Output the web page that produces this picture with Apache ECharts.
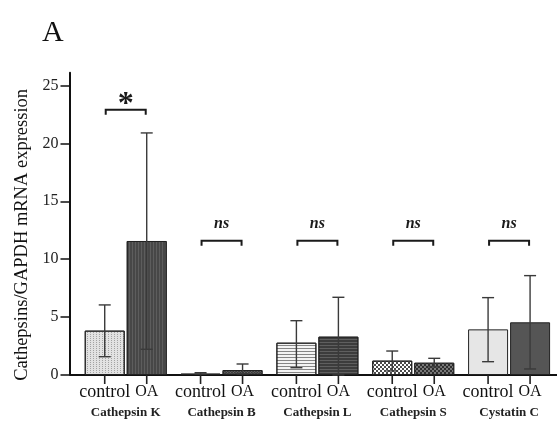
<!DOCTYPE html>
<html><head><meta charset="utf-8">
<script src="https://cdn.jsdelivr.net/npm/echarts@6/dist/echarts.min.js"></script>
<style>html,body{margin:0;padding:0;background:#fff}#c{width:557px;height:432px}</style>
</head><body><div id="c"></div>
<script>
// ---- data ----
const categories = ['Cathepsin K', 'Cathepsin B', 'Cathepsin L', 'Cathepsin S', 'Cystatin C'];
const groupNames = ['control', 'OA'];
const controlMean = [3.83, 0.12, 2.79, 1.24, 3.94];
const controlLow  = [1.58, 0.08, 0.63, 0.35, 1.15];
const controlHigh = [6.05, 0.20, 4.69, 2.07, 6.68];
const oaMean = [11.57, 0.43, 3.31, 1.06, 4.55];
const oaLow  = [2.22, 0.10, 0.00, 0.70, 0.52];
const oaHigh = [20.90, 0.95, 6.71, 1.44, 8.58];
const sigY = [22.9, 11.6, 11.6, 11.6, 11.6];
const sigText = ['*', 'ns', 'ns', 'ns', 'ns'];
const yTicks = [0, 5, 10, 15, 20, 25];

// ---- styling ----
const FONT = 'Liberation Serif';
const BAR_W = 40, GAP = 2, OFF = (BAR_W + GAP) / 2;
const GRID_LEFT = 77.8, AXIS_X = 69.5;

const controlStyles = [
  { color: '#e2e2e2', decal: { symbol: 'rect', symbolSize: 1, dashArrayX: [1, 2], dashArrayY: [1, 1], color: 'rgba(0,0,0,0.28)' } },
  { color: '#3a3a3a', decal: { symbol: 'rect', symbolSize: 1, dashArrayX: [1, 1], dashArrayY: [1, 1], color: 'rgba(255,255,255,0.2)' } },
  { color: '#f4f4f4', decal: { symbol: 'rect', symbolSize: 1, dashArrayX: [1, 0], dashArrayY: [1, 2], color: 'rgba(0,0,0,0.45)' } },
  { color: '#ffffff', decal: { symbol: 'rect', symbolSize: 1, dashArrayX: [[2, 2], [0, 2, 2, 0]], dashArrayY: [2, 0], color: 'rgba(0,0,0,0.7)' } },
  { color: '#e6e6e6' }
];
const oaStyles = [
  { color: '#474747', decal: { symbol: 'rect', symbolSize: 1, dashArrayX: [1, 2], dashArrayY: [1, 0], color: 'rgba(255,255,255,0.12)' } },
  { color: '#3a3a3a', decal: { symbol: 'rect', symbolSize: 1, dashArrayX: [1, 1], dashArrayY: [1, 1], rotation: Math.PI / 4, color: 'rgba(255,255,255,0.3)' } },
  { color: '#3c3c3c', decal: { symbol: 'rect', symbolSize: 1, dashArrayX: [1, 0], dashArrayY: [1, 2], color: 'rgba(255,255,255,0.18)' } },
  { color: '#2e2e2e', decal: { symbol: 'rect', symbolSize: 1, dashArrayX: [[2, 2], [0, 2, 2, 0]], dashArrayY: [2, 0], color: 'rgba(255,255,255,0.35)' } },
  { color: '#555555' }
];

function barData(vals, styles) {
  return vals.map((v, i) => ({
    value: v,
    itemStyle: Object.assign({ borderColor: '#222', borderWidth: 1 }, styles[i])
  }));
}

const errData = [];
categories.forEach((c, i) => {
  errData.push([i, controlLow[i], controlHigh[i], 0]);
  errData.push([i, oaLow[i], oaHigh[i], 1]);
});

function errRender(params, api) {
  const idx = api.value(0), lo = api.value(1), hi = api.value(2), side = api.value(3);
  const pHi = api.coord([idx, hi]);
  const pLo = api.coord([idx, lo]);
  const base = api.coord([idx, 0]);
  const x = pHi[0] + (side ? OFF : -OFF);
  const cap = 6;
  const st = { stroke: '#3a3a3a', lineWidth: 1.4 };
  return {
    type: 'group',
    children: [
      { type: 'line', shape: { x1: x, y1: pHi[1], x2: x, y2: pLo[1] }, style: st },
      { type: 'line', shape: { x1: x - cap, y1: pHi[1], x2: x + cap, y2: pHi[1] }, style: st },
      { type: 'line', shape: { x1: x - cap, y1: pLo[1], x2: x + cap, y2: pLo[1] }, style: st },
      { type: 'line', shape: { x1: x, y1: base[1], x2: x, y2: base[1] + 9 }, style: { stroke: '#222', lineWidth: 1.6 } }
    ]
  };
}

const sigData = categories.map((c, i) => [i, sigY[i]]);
function sigRender(params, api) {
  const idx = api.value(0), y = api.value(1);
  const p = api.coord([idx, y]);
  const hw = OFF - 1, leg = 5;
  const t = sigText[params.dataIndex];
  const star = t === '*';
  return {
    type: 'group',
    children: [
      { type: 'polyline', shape: { points: [[p[0] - hw, p[1] + leg], [p[0] - hw, p[1]], [p[0] + hw, p[1]], [p[0] + hw, p[1] + leg]] },
        style: { stroke: '#1a1a1a', lineWidth: 2, fill: null } },
      { type: 'text', style: {
          text: t, x: p[0], y: star ? p[1] - 5 : p[1] - 17, align: 'center', verticalAlign: 'middle',
          font: star ? 'bold 32px "Liberation Serif"' : 'italic bold 16px "Liberation Serif"', fill: '#1a1a1a' } }
    ]
  };
}

const chart = echarts.init(document.getElementById('c'), null, { renderer: 'canvas' });
chart.setOption({
  animation: false,
  backgroundColor: '#fff',
  title: { text: 'A', left: 37, top: 13, textStyle: { fontFamily: FONT, fontSize: 30, fontWeight: 'normal', color: '#111' } },
  grid: { left: GRID_LEFT, right: -7.8, top: 72.7, bottom: 57, containLabel: false },
  xAxis: {
    type: 'category', data: categories,
    axisLine: { lineStyle: { color: '#111', width: 2 } },
    axisTick: { show: false },
    axisLabel: { fontFamily: FONT, fontSize: 13, fontWeight: 'bold', color: '#222', margin: 31, interval: 0 }
  },
  yAxis: {
    type: 'value', min: 0, max: 26.1, interval: 5,
    offset: GRID_LEFT - AXIS_X,
    axisLine: { show: true, lineStyle: { color: '#111', width: 2 } },
    axisTick: { show: true, length: 9, customValues: yTicks, lineStyle: { color: '#111', width: 1.5 } },
    axisLabel: { customValues: yTicks, fontFamily: FONT, fontSize: 16, color: '#222', margin: 11 },
    splitLine: { show: false },
    name: 'Cathepsins/GAPDH mRNA expression', nameLocation: 'middle', nameGap: 33,
    nameTextStyle: { fontFamily: FONT, fontSize: 18.5, color: '#111', padding: [0, 22, 0, 0] }
  },
  series: [
    { type: 'bar', name: groupNames[0], data: barData(controlMean, controlStyles), barWidth: BAR_W, barGap: (GAP / BAR_W * 100) + '%',
      label: { show: true, position: 'bottom', distance: 8, formatter: groupNames[0], fontFamily: FONT, fontSize: 18, color: '#111' } },
    { type: 'bar', name: groupNames[1], data: barData(oaMean, oaStyles), barWidth: BAR_W,
      label: { show: true, position: 'bottom', distance: 9, formatter: groupNames[1], fontFamily: FONT, fontSize: 16, color: '#111' } },
    { type: 'custom', name: 'error', renderItem: errRender, data: errData, z: 5, encode: { x: 0, y: [1, 2] } },
    { type: 'custom', name: 'sig', renderItem: sigRender, data: sigData, z: 6, encode: { x: 0, y: 1 } }
  ]
});
// short piece of baseline between offset y-axis and grid start
const b = chart.convertToPixel({ gridIndex: 0 }, [0, 0]);
chart.setOption({ graphic: [{ type: 'line', shape: { x1: AXIS_X, y1: b[1], x2: GRID_LEFT + 1, y2: b[1] }, style: { stroke: '#111', lineWidth: 2 } }] });
</script></body></html>
